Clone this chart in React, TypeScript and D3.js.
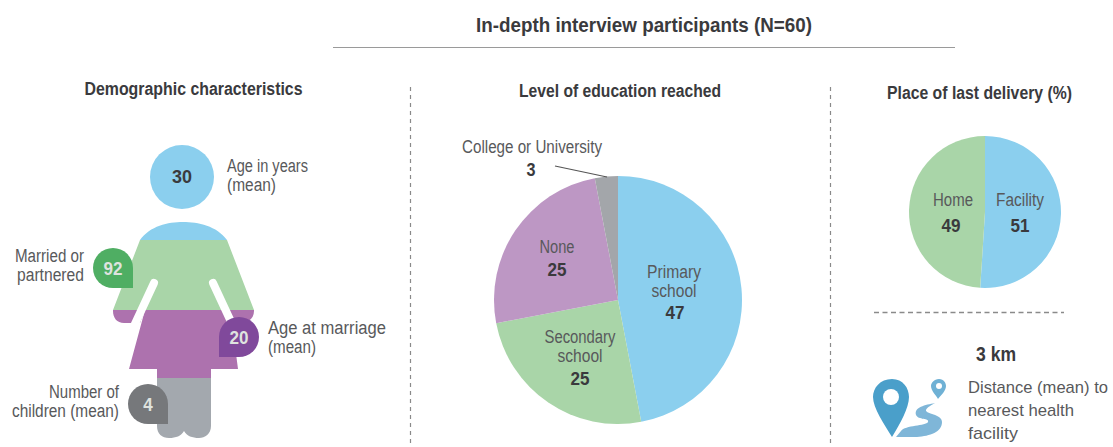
import * as d3 from "d3";
import React from "react";

// Education level shares (%), clockwise from twelve o'clock
const educationLabels = ["Primary school", "Secondary school", "None", "College or University"];
const educationValues = [47, 25, 25, 3];
const educationColors = ["#8bcfee", "#a9d5a8", "#bd97c4", "#a3a6aa"];

// Place of last delivery (%)
const deliveryLabels = ["Facility", "Home"];
const deliveryValues = [51, 49];
const deliveryColors = ["#8bcfee", "#a9d5a8"];

// Demographic means and shares
const ageYears = 30;
const marriedShare = 92;
const ageAtMarriage = 20;
const childrenCount = 4;
const distanceKm = 3;

const FONT = "'Liberation Sans', Arial, sans-serif";
const DARK = "#3a3a3d";
const MID = "#58595b";

type LabelProps = {
  x: number; y: number; w: number; text: string | number;
  size?: number; bold?: boolean; anchor?: string; fill?: string;
};

// Condensed label squeezed to a set width
function Label({ x, y, w, text, size = 18, bold = false, anchor = "middle", fill = MID }: LabelProps) {
  return (
    <text x={x} y={y} textLength={w} lengthAdjust="spacingAndGlyphs" textAnchor={anchor}
      dominantBaseline="central" fontFamily={FONT} fontSize={size}
      fontWeight={bold ? 700 : 400} fill={fill}>{text}</text>
  );
}

function Pie({ cx, cy, r, values, colors }: { cx: number; cy: number; r: number; values: number[]; colors: string[] }) {
  const arcs = d3.pie<number>().sort(null)(values);
  const arc = d3.arc<d3.PieArcDatum<number>>().innerRadius(0).outerRadius(r);
  return (
    <g transform={`translate(${cx},${cy})`}>
      {arcs.map((a, i) => <path key={i} d={arc(a) ?? ""} fill={colors[i]} />)}
    </g>
  );
}

// Speech-bubble badge: a circle with one square corner
function Badge({ cx, cy, r, corner, fill, value }: { cx: number; cy: number; r: number; corner: "br" | "bl"; fill: string; value: number }) {
  const d = corner === "br"
    ? `M${cx + r} ${cy}A${r} ${r} 0 1 0 ${cx} ${cy + r}L${cx + r} ${cy + r}Z`
    : `M${cx} ${cy + r}A${r} ${r} 0 1 0 ${cx - r} ${cy}L${cx - r} ${cy + r}Z`;
  return (
    <g>
      <path d={d} fill={fill} />
      <Label x={cx} y={cy + 1} w={String(value).length * 9.5} text={value} bold size={18} fill="#dfe3df" />
    </g>
  );
}

const bodyOutline =
  "M140 240 C150 226 168 222 183 222 C198 222 217 226 227 240 L254 310 L254 311 C254 320 246 323 240 323 " +
  "L232 323 L238 369 L211 369 L211 426 C211 434 205 438 199 438 C192 438 187 436 184 431 " +
  "C181 436 176 438 169 438 C162 438 157 434 157 426 L157 369 L129 369 L145 310 L140 323 " +
  "L124 323 C117 323 113 318 113 311 L113 310 Z";

export default function App() {
  const bands = [
    { y0: 215, y1: 240, fill: "#8bcfee" },
    { y0: 240, y1: 310, fill: "#a9d5a8" },
    { y0: 310, y1: 378, fill: "#ad72ae" },
    { y0: 378, y1: 445, fill: "#a3a8ae" },
  ];
  return (
    <svg width={1113} height={447} style={{ position: "absolute", left: 0, top: 0, background: "#fff" }}>
      <defs>
        <clipPath id="body"><path d={bodyOutline} /></clipPath>
      </defs>

      <Label x={644} y={25} w={336} text="In-depth interview participants (N=60)" size={20} bold fill={DARK} />
      <line x1={333} x2={955} y1={47.5} y2={47.5} stroke="#9a9a9a" strokeWidth={1.2} />

      <Label x={193.5} y={89} w={218} text="Demographic characteristics" bold fill={DARK} />
      <Label x={620} y={91} w={202} text="Level of education reached" bold fill={DARK} />
      <Label x={979.5} y={93} w={185} text="Place of last delivery (%)" bold fill={DARK} />

      <line x1={410.5} x2={410.5} y1={87} y2={447} stroke="#8a8a8a" strokeWidth={1.2} strokeDasharray="4 4" />
      <line x1={830.5} x2={830.5} y1={87} y2={447} stroke="#8a8a8a" strokeWidth={1.2} strokeDasharray="4 4" />
      <line x1={874} x2={1064} y1={312.5} y2={312.5} stroke="#8a8a8a" strokeWidth={1.4} strokeDasharray="5 3.5" />

      {/* Figure */}
      <circle cx={182} cy={177} r={32} fill="#8bcfee" />
      <Label x={182} y={177} w={20} text={ageYears} bold fill={DARK} />
      <g clipPath="url(#body)">
        {bands.map((b, i) => <rect key={i} x={100} width={170} y={b.y0} height={b.y1 - b.y0} fill={b.fill} />)}
      </g>
      <line x1={154} y1={283} x2={134} y2={326} stroke="#fff" strokeWidth={8} strokeLinecap="round" />
      <line x1={213} y1={283} x2={233} y2={326} stroke="#fff" strokeWidth={8} strokeLinecap="round" />

      <Badge cx={113} cy={268} r={20} corner="br" fill="#4fae63" value={marriedShare} />
      <Badge cx={239} cy={337} r={20} corner="bl" fill="#80499b" value={ageAtMarriage} />
      <Badge cx={148} cy={404} r={20} corner="br" fill="#76787b" value={childrenCount} />

      <Label x={227} y={166} w={81} text="Age in years" anchor="start" />
      <Label x={227} y={185} w={49} text="(mean)" anchor="start" />
      <Label x={84} y={256} w={69} text="Married or" anchor="end" />
      <Label x={84} y={275} w={67} text="partnered" anchor="end" />
      <Label x={268} y={328} w={118} text="Age at marriage" anchor="start" />
      <Label x={268} y={347} w={48} text="(mean)" anchor="start" />
      <Label x={119} y={392} w={70} text="Number of" anchor="end" />
      <Label x={119} y={411} w={107} text="children (mean)" anchor="end" />

      {/* Education pie */}
      <Pie cx={618} cy={300} r={124} values={educationValues} colors={educationColors} />
      <Label x={532} y={147} w={140} text={educationLabels[3]} />
      <Label x={531} y={170} w={9} text={educationValues[3]} bold fill={DARK} />
      <line x1={555} y1={166} x2={607} y2={177} stroke="#555" strokeWidth={1.2} />
      <Label x={674} y={272} w={54} text="Primary" />
      <Label x={674} y={291} w={45} text="school" />
      <Label x={675} y={313} w={19} text={educationValues[0]} bold fill={DARK} />
      <Label x={580} y={337} w={71} text="Secondary" />
      <Label x={580} y={356} w={45} text="school" />
      <Label x={580} y={379} w={19} text={educationValues[1]} bold fill={DARK} />
      <Label x={557} y={247} w={35} text={educationLabels[2]} />
      <Label x={557} y={270} w={19} text={educationValues[2]} bold fill={DARK} />

      {/* Delivery pie */}
      <Pie cx={985} cy={212} r={76} values={deliveryValues} colors={deliveryColors} />
      <Label x={1020} y={200} w={48} text={deliveryLabels[0]} />
      <Label x={1020} y={226} w={19} text={deliveryValues[0]} bold fill={DARK} />
      <Label x={953} y={200} w={40} text={deliveryLabels[1]} />
      <Label x={951} y={226} w={19} text={deliveryValues[1]} bold fill={DARK} />

      {/* Distance */}
      <Label x={996} y={354} w={40} text={`${distanceKm} km`} bold size={20} fill={DARK} />
      <Label x={968} y={387} w={140} text="Distance (mean) to" anchor="start" size={17} />
      <Label x={968} y={410} w={106} text="nearest health" anchor="start" size={17} />
      <Label x={968} y={433} w={50} text="facility" anchor="start" size={17} />

      <path d="M892 379 C880 379 873 388 873 397 C873 408 884 424 892 437 C900 424 909 408 909 397 C909 388 903 379 892 379Z" fill="#4a9fca" />
      <circle cx={891} cy={397} r={8} fill="#fff" />
      <path d="M939 379 C934 379 931 383 931 386 C931 391 936 395 938 399 C941 395 946 391 946 386 C946 383 944 379 939 379Z" fill="#6fb1d5" />
      <circle cx={939} cy={386} r={3} fill="#fff" />
      <path d="M935 403 C925 405 914 407 916 415 C918 420 930 418 928 422 C926 426 905 425 901 431 L896 437 L917 437 C930 436 942 432 942 422 C942 414 925 414 926 410 C927 407 932 405 935 403Z" fill="#7fb6d8" />
    </svg>
  );
}
